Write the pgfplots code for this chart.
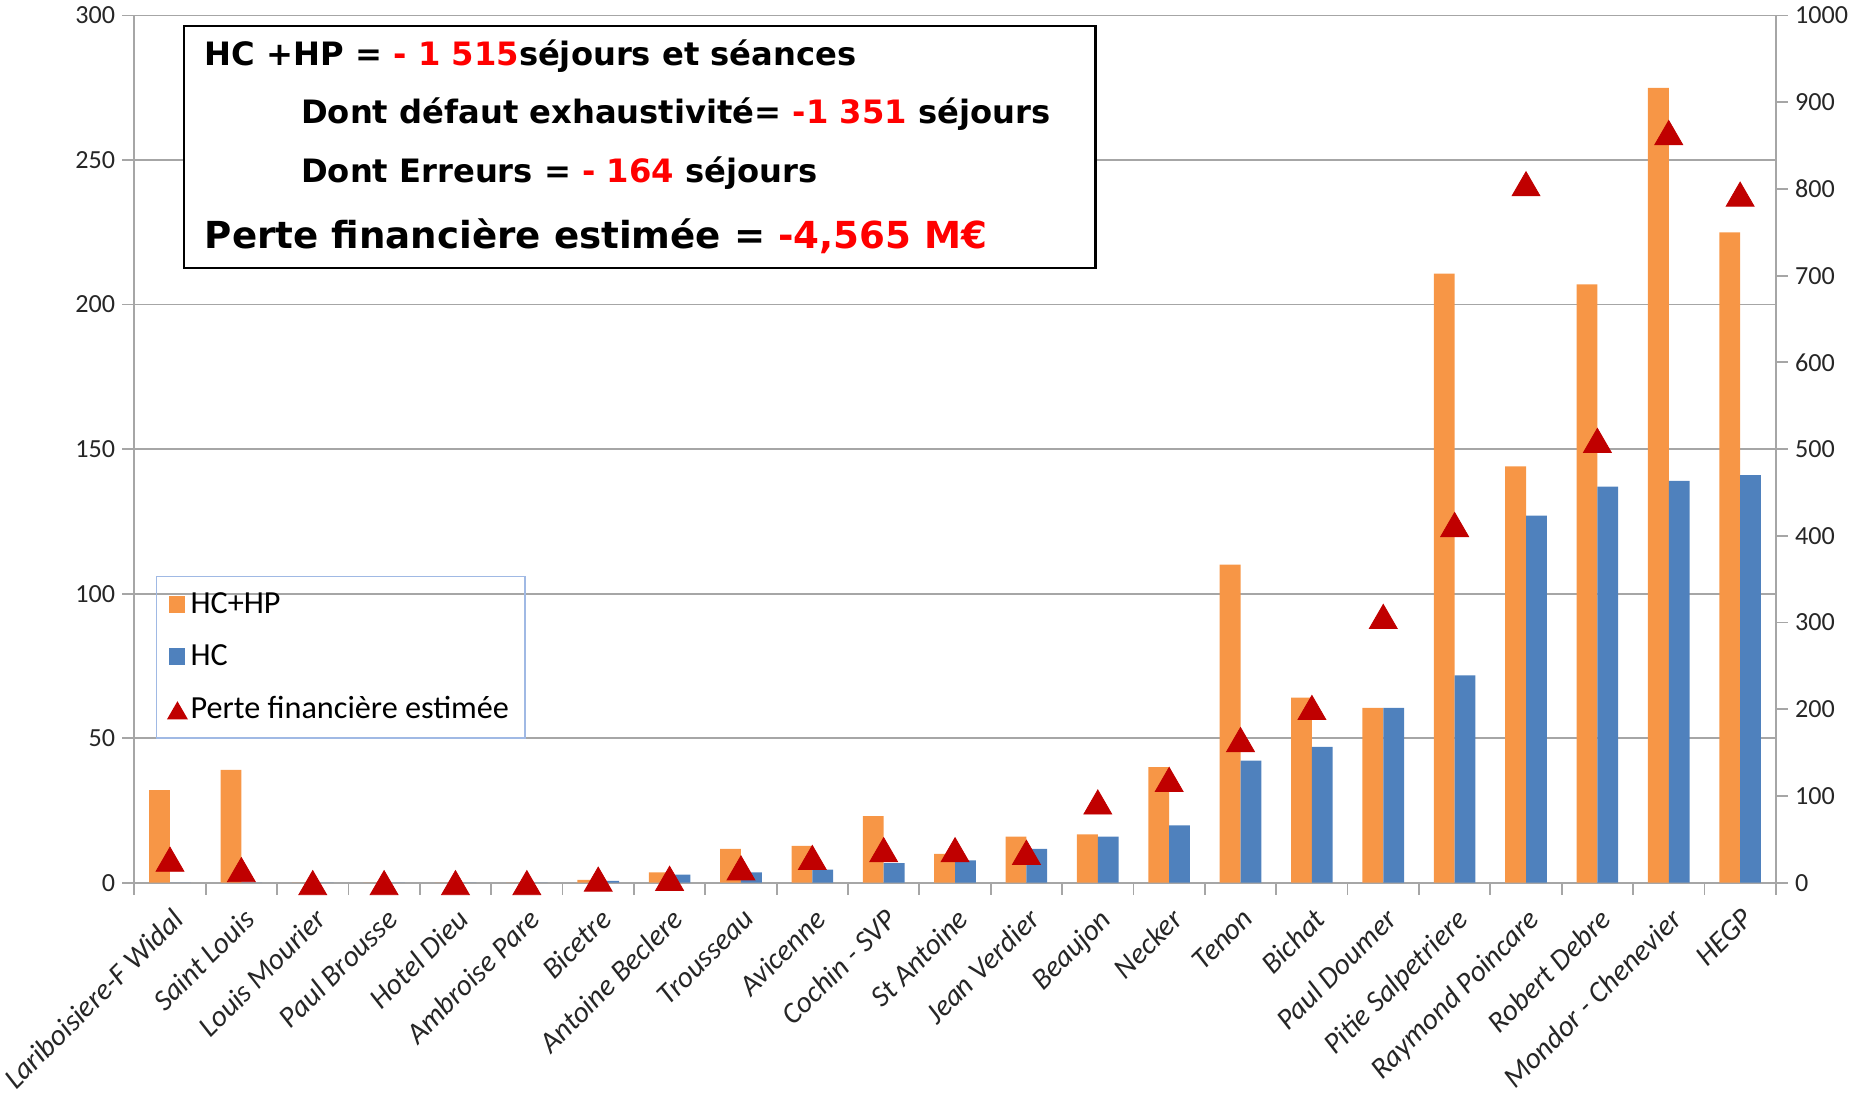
\documentclass[border=0pt]{standalone}
\usepackage{fontspec}
\setmainfont{Carlito}
\newfontfamily\boxfont{DejaVu Sans}
\usepackage{pgfplots}
\pgfplotsset{compat=1.18}

\definecolor{hchp}{HTML}{F79646}
\definecolor{hc}{HTML}{4F81BD}
\definecolor{perte}{HTML}{C00000}
\definecolor{axgray}{HTML}{A6A6A6}
\definecolor{legblue}{RGB}{160,185,228}

\pgfplotsset{
  base/.style={
    scale only axis, width=276mm, height=145.8mm,
    xmin=-0.5, xmax=22.5,
    tick align=outside,
    major tick length=2mm, minor tick length=2mm,
    axis line style={axgray, line width=0.3mm},
    tick label style={font=\fontsize{12.5}{14}\selectfont, text=black!85},
    /pgf/number format/assume math mode=true,
    /pgf/number format/1000 sep={},
  },
  sqlegend/.style={legend image code/.code={\fill[##1] (0mm,-1.4mm) rectangle (2.8mm,1.4mm);}},
  trilegend/.style={legend image code/.code={\draw[##1, mark size=1.75mm] plot coordinates {(1.5mm,0mm)};}},
}

\begin{document}
\begin{tikzpicture}
% left axis: number of stays (bars)
\begin{axis}[base,
  axis x line*=bottom, axis y line*=left,
  ymin=0, ymax=300, ytick={0,50,...,300},
  ymajorgrids, grid style={axgray, line width=0.3mm},
  y tick style={axgray, line width=0.3mm},
  xtick={0,...,22},
  xticklabels={Lariboisiere-F Widal, Saint Louis, Louis Mourier, Paul Brousse, Hotel Dieu,
    Ambroise Pare, Bicetre, Antoine Beclere, Trousseau, Avicenne, Cochin - SVP, St Antoine,
    Jean Verdier, Beaujon, Necker, Tenon, Bichat, Paul Doumer, Pitie Salpetriere,
    Raymond Poincare, Robert Debre, Mondor - Chenevier, HEGP},
  major x tick style={draw=none},
  minor xtick={-0.5,0.5,...,22.5},
  minor x tick style={axgray, line width=0.3mm},
  xticklabel style={rotate=45, anchor=north east, inner sep=0.5pt, xshift=-1.2mm, yshift=-1.3mm,
    font=\itshape\fontsize{14.2}{16}\selectfont},
  ybar=0pt, bar width=3.5mm,
]
\addplot[fill=hchp, draw=none] coordinates {
  (0,32) (1,39) (2,0) (3,0) (4,0) (5,0) (6,1) (7,3.6) (8,11.7) (9,12.7) (10,23)
  (11,10) (12,15.9) (13,16.7) (14,40) (15,110) (16,64) (17,60.5) (18,210.7)
  (19,144) (20,207) (21,275) (22,225)
};
\addplot[fill=hc, draw=none] coordinates {
  (0,0) (1,0) (2,0) (3,0) (4,0) (5,0) (6,0.6) (7,2.8) (8,3.6) (9,4.5) (10,6.8)
  (11,7.7) (12,11.7) (13,15.9) (14,19.8) (15,42.2) (16,47) (17,60.5) (18,71.7)
  (19,127) (20,137) (21,139) (22,141)
};
\end{axis}

% right axis: estimated financial loss (triangles)
\begin{axis}[base,
  axis y line*=right, axis x line=none, xtick=\empty,
  ymin=0, ymax=1000, ytick={0,100,...,1000},
  y tick style={axgray, line width=0.3mm},
  clip=false,
  legend style={at={(axis description cs:0.013,0.354)}, anchor=north west,
    draw=legblue, line width=0.3mm, fill=none,
    font=\fontsize{15.4}{17}\selectfont, row sep=3.3mm,
    inner xsep=2mm, inner ysep=2mm},
  legend cell align=left,
]
\addlegendimage{sqlegend, fill=hchp, draw=none}
\addlegendentry{HC+HP}
\addlegendimage{sqlegend, fill=hc, draw=none}
\addlegendentry{HC}
\addplot[only marks, mark=triangle*, mark size=2.7mm, color=perte,
  mark options={yshift=-0.675mm}, trilegend] coordinates {
  (0,27) (1,15) (2,0) (3,0) (4,0) (5,0) (6,4) (7,5) (8,17) (9,29) (10,38)
  (11,38) (12,35) (13,93) (14,119) (15,165) (16,202) (17,307) (18,413)
  (19,806) (20,510) (21,865) (22,794)
};
\addlegendentry{Perte financière estimée}

\draw[fill=white, line width=0.4mm] (axis description cs:0.0304,0.709) rectangle (axis description cs:0.5855,0.9877);
\node[anchor=base west, inner sep=0pt, font=\boxfont\bfseries\fontsize{15.4}{18}\selectfont]
  at (axis description cs:0.0428,0.9424) {HC +HP = \textcolor{red}{- 1 515}séjours et séances};
\node[anchor=base west, inner sep=0pt, font=\boxfont\bfseries\fontsize{15.4}{18}\selectfont]
  at (axis description cs:0.1014,0.8752) {Dont défaut exhaustivité= \textcolor{red}{-1 351} séjours};
\node[anchor=base west, inner sep=0pt, font=\boxfont\bfseries\fontsize{15.4}{18}\selectfont]
  at (axis description cs:0.1014,0.808) {Dont Erreurs = \textcolor{red}{- 164} séjours};
\node[anchor=base west, inner sep=0pt, font=\boxfont\bfseries\fontsize{17.8}{20}\selectfont]
  at (axis description cs:0.0428,0.7311) {Perte financière estimée = \textcolor{red}{-4,565 M€}};
\end{axis}
\end{tikzpicture}
\end{document}
